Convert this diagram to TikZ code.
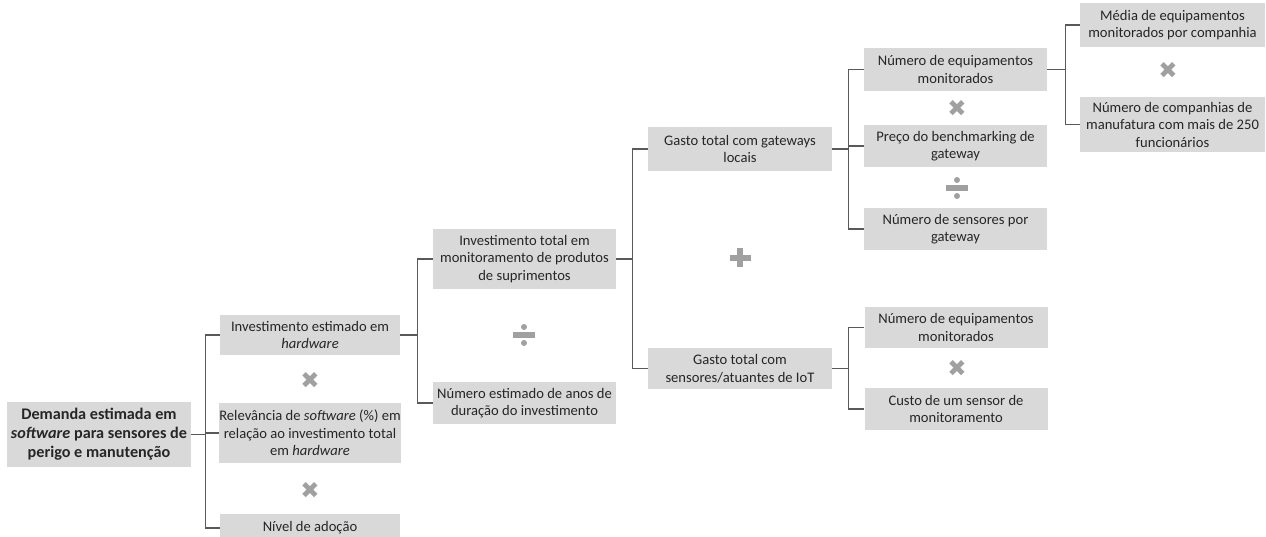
\documentclass[tikz,border=0pt]{standalone}
\usepackage{fontspec}
\setmainfont{Carlito}
\newfontfamily\symfont{DejaVu Sans}
\usepackage{tikz}
\usetikzlibrary{positioning}

\definecolor{boxgray}{HTML}{D9D9D9}
\definecolor{linegray}{HTML}{595959}
\definecolor{opgray}{HTML}{A0A0A0}
\definecolor{txtgray}{HTML}{262626}

\begin{document}
\begin{tikzpicture}[
      x=1pt, y=-1pt,
      box/.style={
          fill=boxgray,
          align=center,
          inner sep=0pt,
          minimum width=183pt,
          text=txtgray,
          font=\fontsize{14.6}{17.5}\selectfont
        },
      rootbox/.style={
          box,
          minimum width=184pt,
          minimum height=65pt,
          font=\fontsize{16.2}{19}\selectfont\bfseries
        },
      mulop/.style={
          inner sep=0pt,
          text=opgray,
          font=\symfont\fontsize{23}{23}\selectfont
        },
      plusop/.style={
          minimum size=22pt,
          inner sep=0pt,
          path picture={
              \fill[opgray] ([shift={(-10.5pt,-2.7pt)}]path picture bounding box.center) rectangle ([shift={(10.5pt,2.7pt)}]path picture bounding box.center);
              \fill[opgray] ([shift={(-2.7pt,-9.5pt)}]path picture bounding box.center) rectangle ([shift={(2.7pt,9.5pt)}]path picture bounding box.center);
            }
        },
      divop/.style={
          minimum size=22pt,
          inner sep=0pt,
          path picture={
              \fill[opgray] ([shift={(-11pt,-2.7pt)}]path picture bounding box.center) rectangle ([shift={(11pt,2.7pt)}]path picture bounding box.center);
              \fill[opgray] ([yshift=8pt]path picture bounding box.center) circle (3pt);
              \fill[opgray] ([yshift=-8pt]path picture bounding box.center) circle (3pt);
            }
        },
      link/.style={
          draw=linegray,
          line width=1.2pt
        }
    ]
    \clip (0,0) rectangle (1266,537);

    % Nodes
    \node[rootbox] (demanda) at (99,434.5) {Demanda estimada em\\\textit{software} para sensores de\\perigo e manutenção};

    \node[box, minimum width=180pt, minimum height=40pt] (hardware) at (310,335) {Investimento estimado em\\\textit{hardware}};
    \node[box, minimum width=180pt, minimum height=60pt] (relevancia) at (310,433) {Relevância de \textit{software} (\%) em\\relação ao investimento total\\em \textit{hardware}};
    \node[box, minimum width=180pt, minimum height=28pt] (adocao) at (310,528) {Nível de adoção};
    \node[mulop] (mul1) at (310,380) {✖};
    \node[mulop] (mul2) at (310,490) {✖};

    \node[box, minimum height=60pt] (invtotal) at (524.5,259) {Investimento total em\\monitoramento de produtos\\de suprimentos};
    \node[box, minimum height=42pt] (anos) at (524.5,403) {Número estimado de anos de\\duração do investimento};
    \node[divop] (div1) at (524,335) {};

    \node[box, minimum width=184pt, minimum height=44pt] (gateways) at (740,149) {Gasto total com gateways\\locais};
    \node[box, minimum width=184pt, minimum height=41pt] (sensores) at (740,368.5) {Gasto total com\\sensores/atuantes de IoT};
    \node[plusop] (plus1) at (740,258) {};

    \node[box, minimum height=43pt] (equipA) at (955.5,69.5) {Número de equipamentos\\monitorados};
    \node[box, minimum height=42pt] (preco) at (955.5,146) {Preço do benchmarking de\\gateway};
    \node[box, minimum height=42pt] (porgw) at (955.5,229) {Número de sensores por\\gateway};
    \node[mulop] (mul3) at (957,108) {✖};
    \node[divop] (div2) at (957,188) {};

    \node[box, minimum width=185pt, minimum height=44pt] (media) at (1172.5,25) {Média de equipamentos\\monitorados por companhia};
    \node[box, minimum width=185pt, minimum height=55pt] (companhias) at (1172.5,124.5) {Número de companhias de\\manufatura com mais de 250\\funcionários};
    \node[mulop] (mul4) at (1168,70) {✖};

    \node[box, minimum height=41pt] (equipB) at (956,327.5) {Número de equipamentos\\monitorados};
    \node[box, minimum height=42pt] (custo) at (956,409) {Custo de um sensor de\\monitoramento};
    \node[mulop] (mul5) at (957,368) {✖};

    % Lines
    \foreach \c in {hardware,relevancia,adocao}
      \draw[link] (demanda.east) -- ++(14,0) |- (\c.west);
    \foreach \c in {invtotal,anos}
      \draw[link] (hardware.east) -- ++(17,0) |- (\c.west);
    \foreach \c in {gateways,sensores}
      \draw[link] (invtotal.east) -- ++(16,0) |- (\c.west);
    \foreach \c in {equipA,preco,porgw}
      \draw[link] (gateways.east) -- ++(16,0) |- (\c.west);
    \foreach \c in {media,companhias}
      \draw[link] (equipA.east) -- ++(18,0) |- (\c.west);
    \foreach \c in {equipB,custo}
      \draw[link] (sensores.east) -- ++(16,0) |- (\c.west);

  \end{tikzpicture}
\end{document}
